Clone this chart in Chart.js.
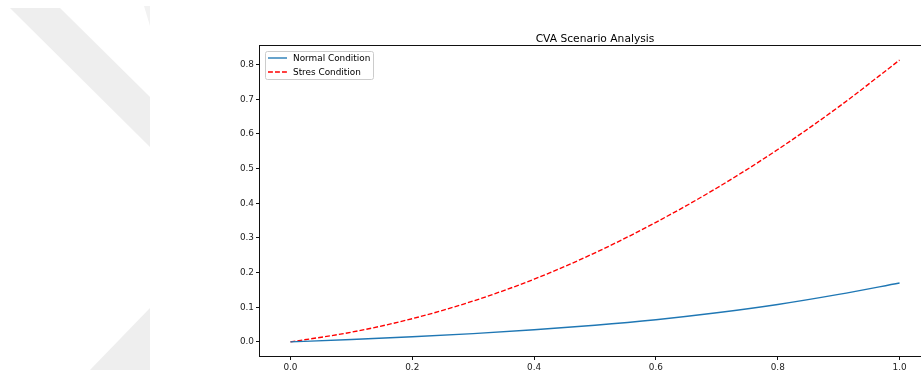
<!DOCTYPE html>
<html>
<head>
<meta charset="utf-8">
<title>CVA Scenario Analysis</title>
<script src="https://cdn.jsdelivr.net/npm/chart.js@4.4.0/dist/chart.umd.min.js"></script>
<style>
  html, body { margin: 0; padding: 0; background: #fff; overflow: hidden; }
  #wrap { position: relative; width: 921px; height: 381px; overflow: hidden; }
  #mark, #cva { position: absolute; left: 0; top: 0; }
</style>
</head>
<body>
<div id="wrap">
  <svg id="mark" width="921" height="381">
    <polygon points="10,8 60,8 150,97 150,147" fill="#eeeeee"/>
    <polygon points="144,6 150,6 150,26" fill="#f2f2f2"/>
    <polygon points="90,370 150,308 150,370" fill="#eeeeee"/>
  </svg>
  <canvas id="cva" width="930" height="381"></canvas>
</div>
<script>
// Horizon and CVA under the two scenarios
const horizon = [0.0, 0.1, 0.2, 0.3, 0.4, 0.5, 0.6, 0.7, 0.8, 0.9, 1.0];
const normalCva = [0, 0.007, 0.015, 0.024, 0.035, 0.048, 0.064, 0.084, 0.108, 0.137, 0.170];
const stressCva = [0, 0.028, 0.067, 0.118, 0.181, 0.257, 0.345, 0.444, 0.555, 0.678, 0.813];

const xTickValues = [0.0, 0.2, 0.4, 0.6, 0.8, 1.0];
const yTickValues = [0.0, 0.1, 0.2, 0.3, 0.4, 0.5, 0.6, 0.7, 0.8];
const seriesLabels = ['Normal Condition', 'Stres Condition'];
const chartTitle = 'CVA Scenario Analysis';

// 5% margins around the data, like pyplot does
const pad = (lo, hi) => [lo - (hi - lo) * 0.05, hi + (hi - lo) * 0.05];
const xRange = pad(Math.min(...horizon), Math.max(...horizon));
const yRange = pad(0, Math.max(...normalCva, ...stressCva));

const FONT = "'DejaVu Sans', sans-serif";
const SMALL = 8.9;
Chart.defaults.font.family = FONT;

const toPoints = ys => horizon.map((x, i) => ({ x, y: ys[i] }));

// Full box around the plot area
const framePlugin = {
  id: 'frame',
  afterDraw(chart) {
    const { ctx, chartArea: a } = chart;
    ctx.save();
    ctx.strokeStyle = '#111';
    ctx.lineWidth = 1;
    ctx.strokeRect(Math.round(a.left) - 0.5, Math.round(a.top) - 0.5,
      Math.round(a.right - a.left) + 1, Math.round(a.bottom - a.top) + 1);
    ctx.restore();
  }
};

// Title centred over the plot area
const titlePlugin = {
  id: 'plotTitle',
  afterDraw(chart) {
    const { ctx, chartArea: a } = chart;
    ctx.save();
    ctx.font = `10.7px ${FONT}`;
    ctx.fillStyle = '#000';
    ctx.textAlign = 'center';
    ctx.textBaseline = 'alphabetic';
    ctx.fillText(chartTitle, (a.left + a.right) / 2, a.top - 4);
    ctx.restore();
  }
};

// Legend box in the upper-left corner
const legendPlugin = {
  id: 'boxLegend',
  afterDraw(chart) {
    const { ctx, chartArea: a } = chart;
    const x0 = Math.round(a.left) + 5, y0 = Math.round(a.top) + 5, w = 108, h = 28;
    ctx.save();
    ctx.fillStyle = 'rgba(255,255,255,0.8)';
    ctx.strokeStyle = '#cccccc';
    ctx.lineWidth = 1;
    ctx.beginPath();
    ctx.roundRect(x0 + 0.5, y0 + 0.5, w, h, 2);
    ctx.fill();
    ctx.stroke();
    ctx.font = `${SMALL}px ${FONT}`;
    ctx.fillStyle = '#000';
    ctx.textBaseline = 'middle';
    chart.data.datasets.forEach((ds, i) => {
      const y = y0 + 7 + i * 14;
      ctx.strokeStyle = ds.borderColor;
      ctx.lineWidth = ds.borderWidth;
      ctx.setLineDash(ds.borderDash || []);
      ctx.beginPath();
      ctx.moveTo(x0 + 3, y);
      ctx.lineTo(x0 + 22, y);
      ctx.stroke();
      ctx.setLineDash([]);
      ctx.fillText(ds.label, x0 + 28, y + 0.5);
    });
    ctx.restore();
  }
};

const axisTicks = {
  autoSkip: false,
  maxRotation: 0,
  color: '#222',
  font: { size: SMALL },
  callback: v => Number(v).toFixed(1)
};

new Chart(document.getElementById('cva'), {
  type: 'line',
  data: {
    datasets: [
      {
        label: seriesLabels[0],
        data: toPoints(normalCva),
        borderColor: '#1f77b4',
        borderWidth: 1.35,
        pointRadius: 0,
        cubicInterpolationMode: 'monotone',
        fill: false
      },
      {
        label: seriesLabels[1],
        data: toPoints(stressCva),
        borderColor: '#ff0000',
        borderWidth: 1.35,
        borderDash: [4.9, 2.1],
        pointRadius: 0,
        cubicInterpolationMode: 'monotone',
        fill: false
      }
    ]
  },
  options: {
    responsive: false,
    animation: false,
    devicePixelRatio: 1,
    layout: { padding: { top: 46, left: 0, right: 0, bottom: 0 } },
    plugins: {
      legend: { display: false },
      title: { display: false },
      tooltip: { enabled: false }
    },
    scales: {
      x: {
        type: 'linear',
        min: xRange[0],
        max: xRange[1],
        afterBuildTicks: s => { s.ticks = xTickValues.map(value => ({ value })); },
        afterFit: s => { s.height = 25; },
        ticks: { ...axisTicks, padding: 2 },
        grid: { drawOnChartArea: false, tickLength: 4, tickColor: '#111' },
        border: { display: false }
      },
      y: {
        type: 'linear',
        min: yRange[0],
        max: yRange[1],
        afterBuildTicks: s => { s.ticks = yTickValues.map(value => ({ value })); },
        afterFit: s => { s.width = 260; },
        ticks: { ...axisTicks, padding: 2 },
        grid: { drawOnChartArea: false, tickLength: 4, tickColor: '#111' },
        border: { display: false }
      }
    }
  },
  plugins: [framePlugin, titlePlugin, legendPlugin]
});
</script>
</body>
</html>
